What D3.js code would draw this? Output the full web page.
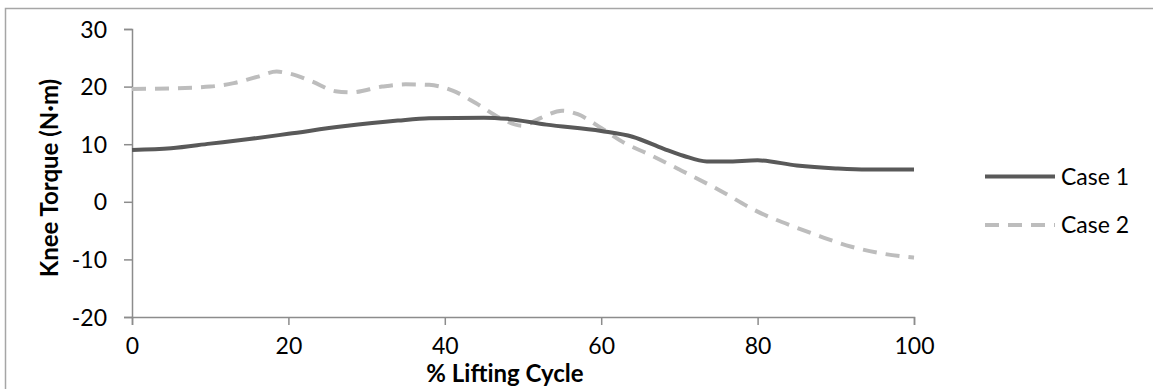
<!DOCTYPE html>
<html>
<head>
<meta charset="utf-8">
<script src="https://cdn.jsdelivr.net/npm/d3@7"></script>
<style>
  body { margin: 0; background: #fff; }
  svg { display: block; font-family: Lato, "Open Sans", sans-serif; }
</style>
</head>
<body>
<svg id="canvas"></svg>
<script>
// values
const xTicks = [0, 20, 40, 60, 80, 100];
const yTicks = [-20, -10, 0, 10, 20, 30];

const case1X = [0, 5, 10, 15, 20, 27, 34, 38, 45, 48, 53, 60, 64, 68, 70.5, 73.5, 76, 80, 85, 90, 94, 100];
const case1Y = [9.0, 9.3, 10.1, 10.9, 11.8, 13.1, 14.1, 14.5, 14.6, 14.4, 13.4, 12.3, 11.3, 9.2, 8.0, 7.0, 7.0, 7.2, 6.3, 5.8, 5.6, 5.6];

const case2X = [0, 5, 10, 13, 16, 18.5, 20, 23, 26, 28, 32, 35, 38, 41, 44, 47, 50, 52, 55, 57, 60, 63, 66, 70, 75, 80, 85, 88, 92, 96, 100];
const case2Y = [19.6, 19.7, 20.0, 20.6, 21.7, 22.6, 22.3, 20.9, 19.2, 19.0, 20.0, 20.4, 20.3, 19.3, 17.1, 14.6, 13.2, 14.4, 15.8, 15.2, 12.8, 10.2, 8.3, 5.6, 2.1, -1.7, -4.5, -6.0, -7.8, -9.0, -9.7];

const seriesNames = ['Case 1', 'Case 2'];

const width = 1153;
const height = 389;
const svg = d3.select('#canvas').attr('width', width).attr('height', height);

// outer frame (runs off the right and bottom edges)
svg.append('rect')
  .attr('x', 5.5).attr('y', 8.5)
  .attr('width', 1160).attr('height', 400)
  .attr('fill', 'none')
  .attr('stroke', '#a6a6a6')
  .attr('stroke-width', 1.5);

const x = d3.scaleLinear().domain([0, 100]).range([132, 914]);
const y = d3.scaleLinear().domain([-20, 30]).range([317, 29]);

const axisColor = '#8c8c8c';

const gx = svg.append('g')
  .attr('transform', `translate(0,${y(-20)})`)
  .call(d3.axisBottom(x).tickValues(xTicks).tickSize(8).tickPadding(11));
const gy = svg.append('g')
  .attr('transform', `translate(${x(0)},0)`)
  .call(d3.axisLeft(y).tickValues(yTicks).tickSize(8).tickPadding(17)
    .tickFormat(d => String(d)));

[gx, gy].forEach(g => {
  g.select('.domain').attr('stroke', axisColor).attr('stroke-width', 1.5);
  g.selectAll('.tick line').attr('stroke', axisColor).attr('stroke-width', 1.5);
  g.selectAll('.tick text')
    .attr('fill', '#000')
    .style('font-family', 'Lato, sans-serif')
    .style('font-size', '23px');
});
gy.selectAll('.tick text').attr('dy', '0.35em');
gx.selectAll('.tick text').attr('dy', '0.8em');

const line = d3.line()
  .x(d => x(d[0]))
  .y(d => y(d[1]))
  .curve(d3.curveMonotoneX);

const case1 = case1X.map((v, i) => [v, case1Y[i]]);
const case2 = case2X.map((v, i) => [v, case2Y[i]]);

svg.append('path')
  .datum(case2)
  .attr('d', line)
  .attr('fill', 'none')
  .attr('stroke', '#bdbdbd')
  .attr('stroke-width', 4)
  .attr('stroke-dasharray', '14,9');

svg.append('path')
  .datum(case1)
  .attr('d', line)
  .attr('fill', 'none')
  .attr('stroke', '#595959')
  .attr('stroke-width', 4);

// axis titles
svg.append('text')
  .attr('x', 505)
  .attr('y', 382)
  .attr('text-anchor', 'middle')
  .style('font-size', '24px')
  .style('font-weight', 'bold')
  .text('% Lifting Cycle');

svg.append('text')
  .attr('transform', 'translate(58,178) rotate(-90)')
  .attr('text-anchor', 'middle')
  .style('font-size', '24px')
  .style('font-weight', 'bold')
  .text('Knee Torque (N·m)');

// legend
const legend = svg.append('g');
const legendY = [176.5, 225];
seriesNames.forEach((name, i) => {
  legend.append('line')
    .attr('x1', 985).attr('x2', 1055)
    .attr('y1', legendY[i]).attr('y2', legendY[i])
    .attr('stroke', i === 0 ? '#595959' : '#bdbdbd')
    .attr('stroke-width', 4)
    .attr('stroke-dasharray', i === 0 ? null : '14,9');
  legend.append('text')
    .attr('x', 1061)
    .attr('y', legendY[i])
    .attr('dy', '0.35em')
    .style('font-size', '23px')
    .text(name);
});
</script>
</body>
</html>
